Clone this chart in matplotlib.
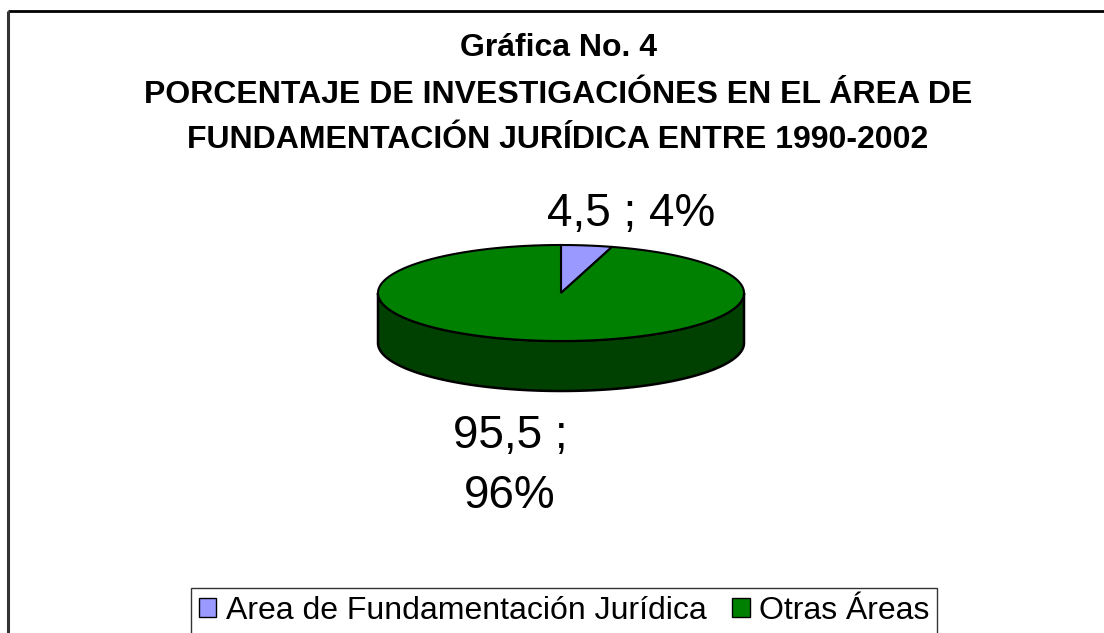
import numpy as np
import matplotlib
matplotlib.use("Agg")
import matplotlib.pyplot as plt
from matplotlib.patches import Polygon, Patch

categories = ["Area de Fundamentación Jurídica", "Otras Áreas"]
values = [4.5, 95.5]
percent_labels = ["4%", "96%"]
colors = ["#9999FF", "#008000"]
side_color = "#004000"
title_lines = ["Gráfica No. 4",
               "PORCENTAJE DE INVESTIGACIÓNES EN EL ÁREA DE",
               "FUNDAMENTACIÓN JURÍDICA ENTRE 1990-2002"]

plt.rcParams['font.family'] = ['Liberation Sans', 'DejaVu Sans']

W, H = 1104, 633
fig = plt.figure(figsize=(W / 100, H / 100), dpi=100)
ax = fig.add_axes([0, 0, 1, 1])
ax.set_xlim(0, W)
ax.set_ylim(H, 0)
ax.axis("off")

# outer frame (only top and left visible)
ax.plot([8, W + 5], [11, 11], color="black", lw=2, solid_capstyle="butt")
ax.plot([8, 8], [11, H + 5], color="#333333", lw=2.2, solid_capstyle="butt")

# title
tx = 558
ax.text(tx, 48, title_lines[0], ha="center", va="center", fontsize=23, fontweight="bold")
ax.text(tx, 95, title_lines[1], ha="center", va="center", fontsize=23, fontweight="bold")
ax.text(tx, 140, title_lines[2], ha="center", va="center", fontsize=23, fontweight="bold")

# 3D pie geometry
cx, cy, rx, ry, depth = 561, 293, 183, 48, 50

def pt(theta_deg):
    t = np.radians(theta_deg)
    return cx + rx * np.sin(t), cy - ry * np.cos(t)

# side (front half)
ts = np.linspace(90, 270, 200)
front = [pt(t) for t in ts]
side = front + [(x, y + depth) for (x, y) in reversed(front)]
ax.add_patch(Polygon(side, closed=True, facecolor=side_color, edgecolor="black", lw=1.8, zorder=2))

# top slices
total = sum(values)
start = 0.0
for v, c in zip(values, colors):
    ext = v / total * 360
    ts = np.linspace(start, start + ext, 300)
    pts = [(cx, cy)] + [pt(t) for t in ts]
    ax.add_patch(Polygon(pts, closed=True, facecolor=c, edgecolor="black", lw=1.5, zorder=3))
    start += ext

# data labels
lab0 = f"{values[0]:g}".replace(".", ",") + " ; " + percent_labels[0]
lab1 = f"{values[1]:g}".replace(".", ",") + " ;\n" + percent_labels[1]
ax.text(631, 214, lab0, ha="center", va="center", fontsize=33)
ax.text(510, 466, lab1, ha="center", va="center", fontsize=33, linespacing=1.45)

# legend
handles = [Patch(facecolor=c, edgecolor="black", lw=1) for c in colors]
leg = fig.legend(handles, categories, loc="upper center", bbox_to_anchor=(564 / W, 1 - 588 / H),
                 ncol=2, fontsize=23, frameon=True, fancybox=False, edgecolor="black",
                 handlelength=0.55, handleheight=0.55, handletextpad=0.3, columnspacing=0.8,
                 borderpad=0.25, borderaxespad=0)
leg.get_frame().set_linewidth(1.0)

fig.savefig("out.png", dpi=100)
